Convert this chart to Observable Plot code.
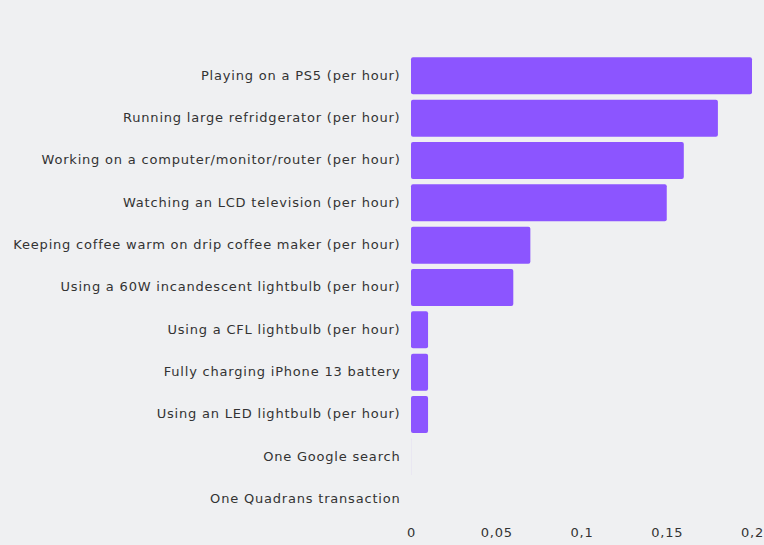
<!DOCTYPE html>
<html>
<head>
<meta charset="utf-8">
<script src="https://cdn.jsdelivr.net/npm/d3@7"></script>
<script src="https://cdn.jsdelivr.net/npm/@observablehq/plot@0.6"></script>
<style>
  html, body { margin: 0; padding: 0; background: #eff0f2; }
  #chart svg { display: block; }
  #chart svg text { letter-spacing: 0.8px; }
</style>
</head>
<body>
<div id="chart"></div>
<script>
const activities = [
  "Playing on a PS5 (per hour)",
  "Running large refridgerator (per hour)",
  "Working on a computer/monitor/router (per hour)",
  "Watching an LCD television (per hour)",
  "Keeping coffee warm on drip coffee maker (per hour)",
  "Using a 60W incandescent lightbulb (per hour)",
  "Using a CFL lightbulb (per hour)",
  "Fully charging iPhone 13 battery",
  "Using an LED lightbulb (per hour)",
  "One Google search",
  "One Quadrans transaction"
];
const kwh = [0.2, 0.18, 0.16, 0.15, 0.07, 0.06, 0.01, 0.01, 0.01, 0.00003, 0.000001];
const xTicks = [0, 0.05, 0.1, 0.15, 0.2];

const data = activities.map((a, i) => ({activity: a, value: kwh[i]}));
const fmt = v => String(v).replace(".", ",");

const chart = Plot.plot({
  width: 764,
  height: 545,
  marginLeft: 411,
  marginRight: 12,
  marginTop: 52,
  marginBottom: 22,
  style: {background: "#eff0f2", fontFamily: "'DejaVu Sans', sans-serif", fontSize: "13px", color: "#333"},
  x: {domain: [0, 0.2], ticks: xTicks, tickFormat: fmt, label: null},
  y: {domain: activities, label: null, padding: 0.126, round: false},
  marks: [
    Plot.barX(data, {x: "value", y: "activity", fill: "#8c55ff", rx: 2}),
    Plot.axisX({ticks: xTicks, tickFormat: fmt, tickSize: 0, tickPadding: 4, label: null, fill: "#333", fontSize: 13}),
    Plot.axisY({tickSize: 0, tickPadding: 11, label: null, fill: "#333", fontSize: 13, dy: -1})
  ]
});
document.getElementById("chart").appendChild(chart);
</script>
</body>
</html>
